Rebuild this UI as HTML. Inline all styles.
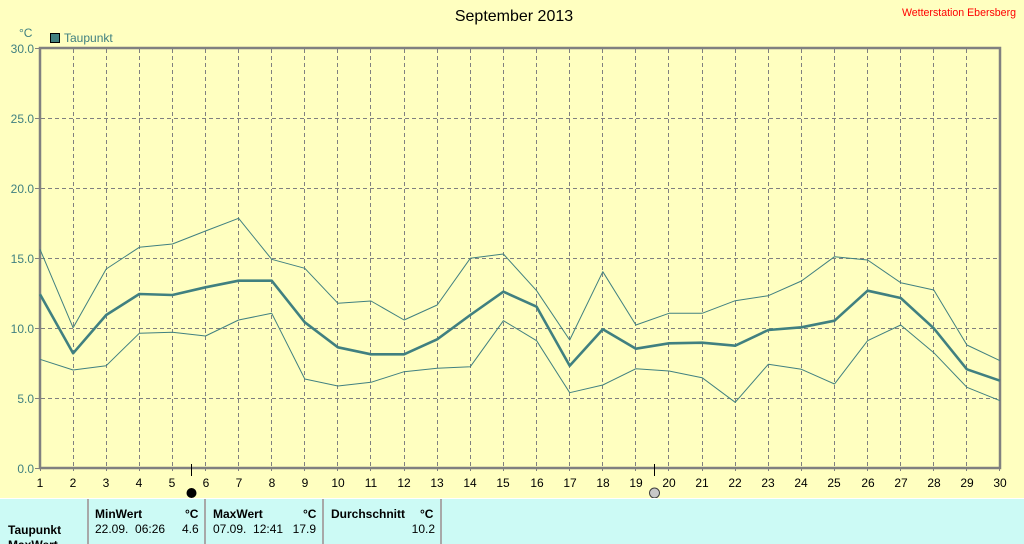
<!DOCTYPE html>
<html><head><meta charset="utf-8">
<style>
html,body{margin:0;padding:0;}
body{width:1024px;height:543px;overflow:hidden;background:#ffffc0;position:relative;font-family:"Liberation Sans",sans-serif;}
svg{position:absolute;left:0;top:0;}
.tbl{position:absolute;left:0;top:498px;width:1024px;height:45px;background:#ccfaf5;border-top:1px solid #ffffff;overflow:hidden;}
.sep{position:absolute;top:0;width:2px;height:46px;background:#a8a8a8;}
.t{position:absolute;font-size:12px;color:#000;white-space:nowrap;line-height:14px;}
.b{font-weight:bold;}
</style></head><body>
<svg width="1024" height="499" viewBox="0 0 1024 499" xmlns="http://www.w3.org/2000/svg">
<rect x="0" y="0" width="1024" height="499" fill="#ffffc0"/>
<text x="514" y="21" font-family="Liberation Sans" font-size="16" text-anchor="middle" fill="#000">September 2013</text>
<text x="1016" y="16" font-family="Liberation Sans" font-size="10.6" text-anchor="end" fill="#ff0000">Wetterstation Ebersberg</text>
<text x="19" y="37" font-family="Liberation Sans" font-size="12" fill="#408080">°C</text>
<rect x="50.5" y="33.5" width="9" height="9" fill="#408080" stroke="#000" stroke-width="1"/>
<text x="64" y="42" font-family="Liberation Sans" font-size="12" fill="#408080">Taupunkt</text>
<g stroke="#808080" stroke-width="1" stroke-dasharray="4,3" fill="none">
<path d="M41 118.5H1000M41 188.5H1000M41 258.5H1000M41 328.5H1000M41 398.5H1000"/>
<path d="M73.5 49V467M106.5 49V467M139.5 49V467M172.5 49V467M205.5 49V467M238.5 49V467M271.5 49V467M304.5 49V467M337.5 49V467M370.5 49V467M404.5 49V467M437.5 49V467M470.5 49V467M503.5 49V467M536.5 49V467M569.5 49V467M602.5 49V467M635.5 49V467M668.5 49V467M702.5 49V467M735.5 49V467M768.5 49V467M801.5 49V467M834.5 49V467M867.5 49V467M900.5 49V467M933.5 49V467M966.5 49V467"/>
</g>
<g stroke="#808080" stroke-width="1">
<path d="M35 48.5H40M35 118.5H40M35 188.5H40M35 258.5H40M35 328.5H40M35 398.5H40M35 468.5H40"/>
<path d="M40.5 468V471M73.5 468V471M106.5 468V471M139.5 468V471M172.5 468V471M205.5 468V471M238.5 468V471M271.5 468V471M304.5 468V471M337.5 468V471M370.5 468V471M404.5 468V471M437.5 468V471M470.5 468V471M503.5 468V471M536.5 468V471M569.5 468V471M602.5 468V471M635.5 468V471M668.5 468V471M702.5 468V471M735.5 468V471M768.5 468V471M801.5 468V471M834.5 468V471M867.5 468V471M900.5 468V471M933.5 468V471M966.5 468V471M999.5 468V471"/>
</g>
<rect x="40" y="48" width="960" height="420" fill="none" stroke="#808080" stroke-width="2.5"/>
<g font-family="Liberation Sans" font-size="12" fill="#408080" text-anchor="end">
<text x="34" y="53">30.0</text><text x="34" y="123">25.0</text><text x="34" y="193">20.0</text>
<text x="34" y="263">15.0</text><text x="34" y="333">10.0</text><text x="34" y="403">5.0</text><text x="34" y="473">0.0</text>
</g>
<g font-family="Liberation Sans" font-size="12" fill="#000" text-anchor="middle">
<text x="40" y="487">1</text><text x="73" y="487">2</text><text x="106" y="487">3</text><text x="139" y="487">4</text><text x="172" y="487">5</text><text x="206" y="487">6</text><text x="239" y="487">7</text><text x="272" y="487">8</text><text x="305" y="487">9</text><text x="338" y="487">10</text><text x="371" y="487">11</text><text x="404" y="487">12</text><text x="437" y="487">13</text><text x="470" y="487">14</text><text x="503" y="487">15</text><text x="537" y="487">16</text><text x="570" y="487">17</text><text x="603" y="487">18</text><text x="636" y="487">19</text><text x="669" y="487">20</text><text x="702" y="487">21</text><text x="735" y="487">22</text><text x="768" y="487">23</text><text x="801" y="487">24</text><text x="834" y="487">25</text><text x="868" y="487">26</text><text x="901" y="487">27</text><text x="934" y="487">28</text><text x="967" y="487">29</text><text x="1000" y="487">30</text>
</g>
<g fill="none" stroke="#408080" stroke-linejoin="round">
<polyline stroke-width="1" points="40,249.3 73.1,327.7 106.2,269 139.3,247.3 172.4,244 205.5,231 238.6,218.3 271.7,259.3 304.8,268.3 337.9,303.3 371,301 404.1,320 437.2,305 470.3,258.3 503.4,254 536.6,290.7 569.7,340 602.8,271.7 635.9,325 669,313.3 702.1,313.3 735.2,300.7 768.3,295.7 801.4,281 834.5,256.7 867.6,260 900.7,282.7 933.8,290 966.9,345 1000,360.7"/>
<polyline stroke-width="2.6" points="40,294.3 73.1,353.3 106.2,315 139.3,294 172.4,295 205.5,287.3 238.6,280.7 271.7,280.7 304.8,322.3 337.9,347.3 371,354.3 404.1,354.3 437.2,339.3 470.3,315 503.4,291.7 536.6,306.7 569.7,365.7 602.8,329.3 635.9,348.7 669,343.3 702.1,342.7 735.2,345.7 768.3,330 801.4,327.3 834.5,320.7 867.6,290.7 900.7,298 933.8,328.3 966.9,369.3 1000,380.7"/>
<polyline stroke-width="1" points="40,359.3 73.1,370 106.2,365.7 139.3,333.3 172.4,332.3 205.5,336 238.6,320 271.7,313.3 304.8,379 337.9,386 371,382.3 404.1,371.7 437.2,368.3 470.3,366.7 503.4,320.7 536.6,340.7 569.7,392.7 602.8,385 635.9,368.7 669,371 702.1,377.7 735.2,402.3 768.3,364.3 801.4,369.3 834.5,384 867.6,340.7 900.7,325 933.8,352.7 966.9,387.3 1000,400.7"/>
</g>
<path d="M191.5 464V476M654.5 464V476" stroke="#000" stroke-width="1"/>
<circle cx="191.5" cy="493" r="5" fill="#000"/>
<circle cx="654.5" cy="493" r="5" fill="#c8c8c8" stroke="#404040" stroke-width="1"/>
</svg>
<div class="tbl">
<div class="sep" style="left:87px"></div>
<div class="sep" style="left:204px"></div>
<div class="sep" style="left:322px"></div>
<div class="sep" style="left:440px"></div>
<div class="t b" style="left:95px;top:8px">MinWert</div>
<div class="t b" style="left:185px;top:8px">°C</div>
<div class="t" style="left:95px;top:23px">22.09.&nbsp; 06:26</div>
<div class="t" style="left:182px;top:23px;width:16px;text-align:right">4.6</div>
<div class="t b" style="left:8px;top:24px">Taupunkt</div>
<div class="t b" style="left:8px;top:39px">MaxWert</div>
<div class="t b" style="left:213px;top:8px">MaxWert</div>
<div class="t b" style="left:303px;top:8px">°C</div>
<div class="t" style="left:213px;top:23px">07.09.&nbsp; 12:41</div>
<div class="t" style="left:290px;top:23px;width:26px;text-align:right">17.9</div>
<div class="t b" style="left:331px;top:8px">Durchschnitt</div>
<div class="t b" style="left:420px;top:8px">°C</div>
<div class="t" style="left:405px;top:23px;width:30px;text-align:right">10.2</div>
</div>
</body></html>
